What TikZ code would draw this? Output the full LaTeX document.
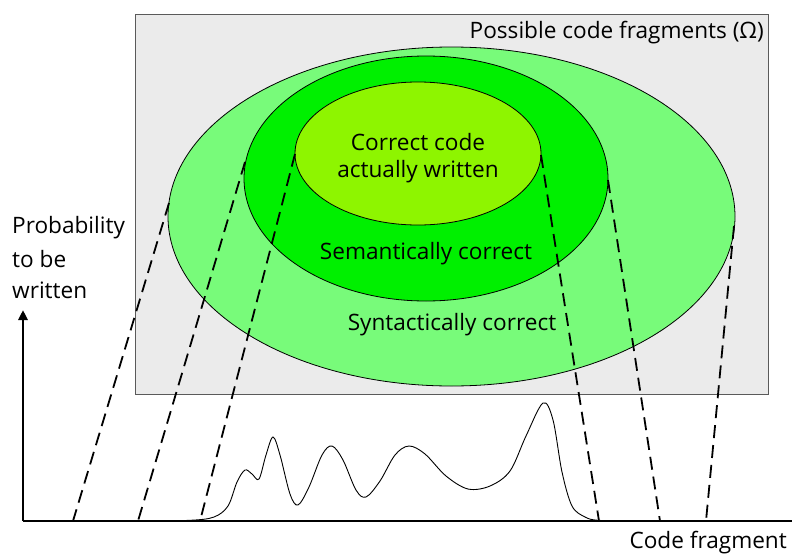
\documentclass[tikz,border=0pt]{standalone}
\usepackage{fontspec}
\setmainfont{Open Sans}
\usetikzlibrary{shapes.geometric,arrows.meta}
\definecolor{panelgray}{RGB}{235,235,235}
\definecolor{panelline}{RGB}{90,90,90}
\definecolor{syngreen}{RGB}{120,251,122}
\definecolor{semgreen}{RGB}{0,240,0}
\definecolor{codegreen}{RGB}{142,245,0}
\tikzset{
  region/.style={ellipse, draw=black, line width=0.8pt, inner sep=0pt},
  lbl/.style={font=\fontsize{22.6}{27}\selectfont, inner sep=0pt},
  proj/.style={line width=1.8pt, dash pattern=on 13pt off 7pt},
  axis/.style={line width=2.8pt},
}
\begin{document}
\begin{tikzpicture}[x=1pt,y=-1pt]
\useasboundingbox (0,0) rectangle (792,554);
% sample space
\node[draw=panelline, fill=panelgray, line width=0.8pt, minimum width=633pt, minimum height=380pt, inner sep=0pt] (omega) at (451.5,204) {};
\node[lbl, anchor=east] (omegalbl) at (764,33) {Possible code fragments (Ω)};
% nested sets
\node[region, fill=syngreen, minimum width=567pt, minimum height=339pt] (syn) at (451.5,216.5) {};
\node[region, fill=semgreen, minimum width=364pt, minimum height=245pt] (sem) at (426,178.5) {};
\node[region, fill=codegreen, minimum width=246pt, minimum height=143pt] (act) at (418,153.5) {};
% projection ends on the sets and on the axis
\coordinate (s1) at (169,203);
\coordinate (s2) at (245,162);
\coordinate (s3) at (295,154);
\coordinate (s4) at (541,155);
\coordinate (s5) at (608,180);
\coordinate (s6) at (734,226);
\coordinate (b1) at (73,521);
\coordinate (b2) at (138,521);
\coordinate (b3) at (200,521);
\coordinate (b4) at (599,521);
\coordinate (b5) at (660,521);
\coordinate (b6) at (706,521);
\draw[proj] (s1) -- (b1);
\draw[proj] (s2) -- (b2);
\draw[proj] (s3) -- (b3);
\draw[proj] (s4) -- (b4);
\draw[proj] (s5) -- (b5);
\draw[proj] (s6) -- (b6);
% set labels
\node[lbl] (t1) at (418,142) {Correct code};
\node[lbl] (t2) at (418,172) {actually written};
\node[lbl] (t3) at (426,254) {Semantically correct};
\node[lbl] (t4) at (452,325) {Syntactically correct};
% axes
\coordinate (origin) at (23,521);
\coordinate (ytop) at (23,310);
\coordinate (xend) at (792,521);
\draw[axis] (origin) -- (xend);
\draw[axis, -{Triangle[length=10pt,width=9pt]}] (origin) -- (ytop);
\node[lbl, anchor=west] (yl1) at (12,228) {Probability};
\node[lbl, anchor=west] (yl2) at (12,259) {to be};
\node[lbl, anchor=west] (yl3) at (12,290) {written};
\node[lbl, anchor=east] (xl) at (787,543) {Code fragment};
% density of written code
\draw[line width=0.9pt] plot[smooth, tension=0.55] coordinates {
 (140,521) (190,520.3) (214,517) (228,506) (237,482) (245,470) (252,474) (259,479)
 (266,455) (273,437) (280,455) (290,494) (298,505) (309,487) (322,455) (332,446)
 (343,460) (356,490) (366,497) (380,481) (395,455) (409,446) (425,454) (446,476)
 (468,489) (490,486) (510,471) (526,436) (543,403) (553,420) (562,472) (572,506)
 (585,517) (598,520.3) (630,521)};
\end{tikzpicture}
\end{document}
